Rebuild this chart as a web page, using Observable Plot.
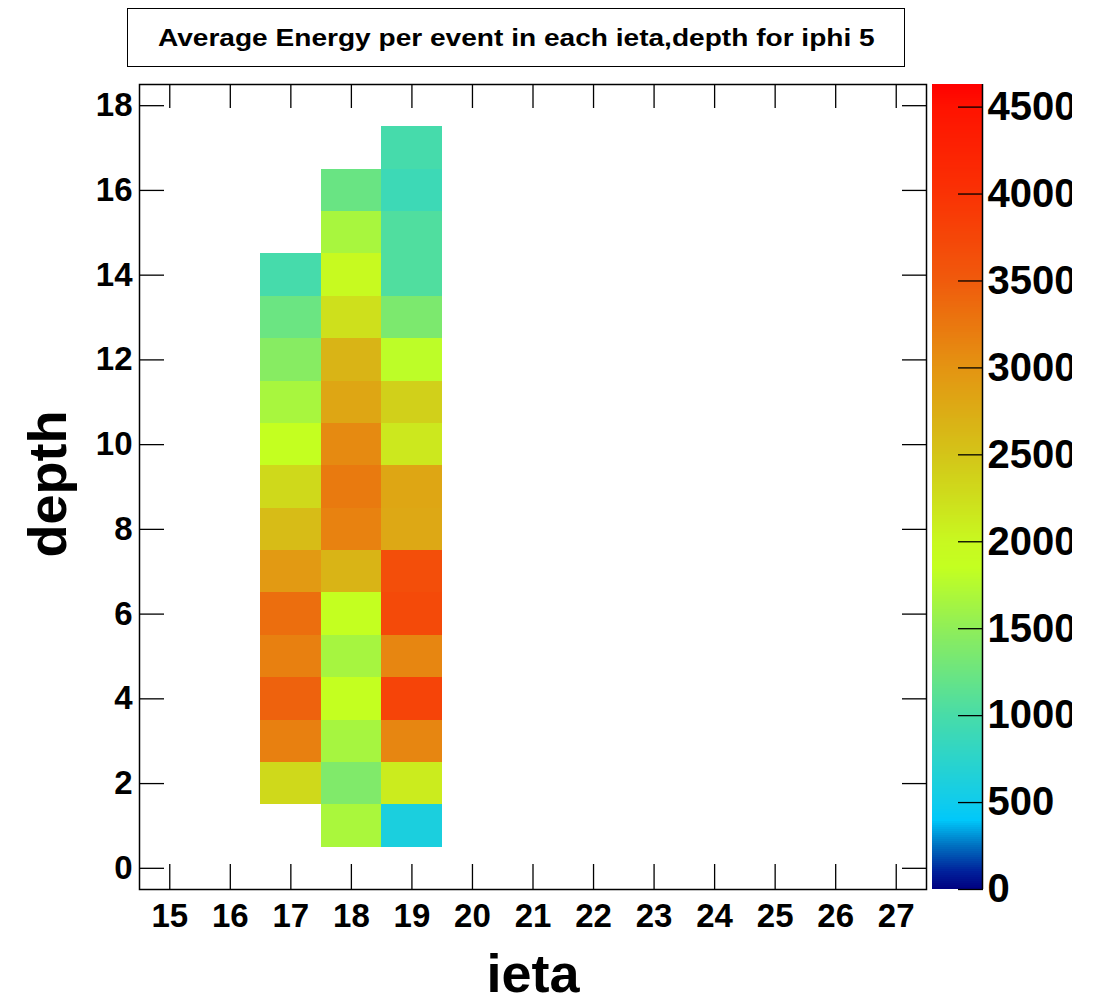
<!DOCTYPE html>
<html>
<head>
<meta charset="utf-8">
<script src="https://cdn.jsdelivr.net/npm/d3@7"></script>
<script src="https://cdn.jsdelivr.net/npm/@observablehq/plot@0.6"></script>
<style>
  body { margin: 0; background: #fff; }
  #wrap { position: relative; width: 1102px; height: 997px; overflow: hidden; font-family: "Liberation Sans", Arial, sans-serif; background: #fff; }
  #main { position: absolute; left: 0; top: 0; }
  #bar { position: absolute; left: 932px; top: 0; width: 140px; height: 997px; overflow: hidden; }
  #title { position: absolute; left: 127px; top: 8px; width: 778px; height: 59px; box-sizing: border-box;
           border: 1.5px solid #000; display: flex; align-items: center; justify-content: center;
           font-weight: bold; font-size: 24px; color: #000; background: #fff; }
  #title span { display: inline-block; transform: scaleX(1.17); white-space: nowrap; }
</style>
</head>
<body>
<div id="wrap">
  <div id="main"></div>
  <div id="bar"></div>
  <div id="title"><span>Average Energy per event in each ieta,depth for iphi 5</span></div>
</div>
<script>
// ---- data ----
const ietaBins = [17, 18, 19];
const firstDepth = [2, 1, 1];
// average energy per depth, starting at firstDepth for each ieta
const energy17 = [2300, 3170, 3430, 3170, 3330, 2940, 2580, 2300, 1850, 1660, 1440, 1240, 980];
const energy18 = [1675, 1390, 1650, 1850, 1650, 1850, 2670, 3155, 3225, 3085, 2810, 2670, 2230, 1950, 1660, 1230];
const energy19 = [600, 2115, 3120, 3775, 3120, 3700, 3650, 2790, 2810, 2150, 2380, 1800, 1360, 1055, 1055, 900, 980];

const xTicks = [15, 16, 17, 18, 19, 20, 21, 22, 23, 24, 25, 26, 27];
const yTicks = [0, 2, 4, 6, 8, 10, 12, 14, 16, 18];
const zTicks = [0, 500, 1000, 1500, 2000, 2500, 3000, 3500, 4000, 4500];
const xDomain = [14.5, 27.5];
const yDomain = [-0.5, 18.5];
const zMax = 4630;

// ROOT-like palette
const paletteStops = [0, 100, 250, 400, 500, 1000, 1500, 1850, 2000, 2500, 3000, 3500, 4000, 4500, 4630];
const paletteColors = ["#000080", "#00209a", "#0070c0", "#00c8fa", "#10ccec", "#48dca8", "#90ee58", "#c4ff20",
                       "#c8f820", "#d4c418", "#e49412", "#f05a0c", "#fa3204", "#ff1200", "#ff0000"];

// ---- build table ----
const energies = [energy17, energy18, energy19];
const cells = [];
ietaBins.forEach((ieta, i) => {
  energies[i].forEach((v, j) => cells.push({ieta, depth: firstDepth[i] + j, value: v}));
});

const colorScale = {type: "linear", domain: paletteStops, range: paletteColors, interpolate: "rgb", clamp: true};
const fmt = d3.format("d");
const font = "Liberation Sans, Arial, sans-serif";

const main = Plot.plot({
  width: 1102,
  height: 997,
  marginLeft: 139,
  marginRight: 176,
  marginTop: 84,
  marginBottom: 108,
  style: {fontFamily: font, background: "transparent", color: "#000"},
  x: {domain: xDomain},
  y: {domain: yDomain},
  color: colorScale,
  marks: [
    Plot.rect(cells, {
      x1: d => d.ieta - 0.5, x2: d => d.ieta + 0.5,
      y1: d => d.depth - 0.5, y2: d => d.depth + 0.5,
      fill: "value", shapeRendering: "crispEdges"
    }),
    Plot.frame({stroke: "#000", strokeWidth: 1.5}),
    Plot.axisX({anchor: "bottom", ticks: xTicks, tickSize: 25, dy: -25, fill: "none", stroke: "#000", strokeWidth: 1.3, label: null}),
    Plot.axisX({anchor: "top", ticks: xTicks, tickSize: 23, dy: 23, fill: "none", stroke: "#000", strokeWidth: 1.3, label: null}),
    Plot.axisX({anchor: "bottom", ticks: xTicks, tickSize: 0, tickPadding: 14, tickFormat: fmt,
                fontSize: 33, fontWeight: "bold", label: null}),
    Plot.axisY({anchor: "left", ticks: yTicks, tickSize: 25, dx: 25, fill: "none", stroke: "#000", strokeWidth: 1.3, label: null}),
    Plot.axisY({anchor: "right", ticks: yTicks, tickSize: 25, dx: -25, fill: "none", stroke: "#000", strokeWidth: 1.3, label: null}),
    Plot.axisY({anchor: "left", ticks: yTicks, tickSize: 0, tickPadding: 7, tickFormat: fmt,
                fontSize: 33, fontWeight: "bold", label: null}),
    Plot.text(["ieta"], {frameAnchor: "bottom", textAnchor: "middle", dy: 102, fontSize: 54, fontWeight: "bold", fill: "#000"}),
    Plot.text(["depth"], {frameAnchor: "left", textAnchor: "middle", dx: -91, dy: -3, rotate: -90, fontSize: 54, fontWeight: "bold", fill: "#000"})
  ]
});
document.getElementById("main").appendChild(main);

// ---- colour bar ----
const nSteps = 400;
const step = zMax / nSteps;
const barLevels = d3.range(nSteps).map(i => i * step);
const bar = Plot.plot({
  width: 140,
  height: 997,
  marginLeft: 0,
  marginRight: 90,
  marginTop: 84,
  marginBottom: 108,
  style: {fontFamily: font, background: "transparent", color: "#000", overflow: "hidden"},
  x: {domain: [0, 1], axis: null},
  y: {domain: [0, zMax]},
  color: colorScale,
  marks: [
    Plot.rect(barLevels, {x1: 0, x2: 1, y1: d => d, y2: d => d + step, fill: d => d + step / 2, shapeRendering: "crispEdges"}),
    Plot.ruleX([1], {stroke: "#000", strokeWidth: 1.5}),
    Plot.axisY({anchor: "right", ticks: zTicks, tickSize: 25, dx: -25, fill: "none", stroke: "#000", strokeWidth: 1.3, label: null}),
    Plot.axisY({anchor: "right", ticks: zTicks, tickSize: 0, tickPadding: 5, tickFormat: fmt,
                fontSize: 40, fontWeight: "bold", label: null})
  ]
});
document.getElementById("bar").appendChild(bar);
</script>
</body>
</html>
